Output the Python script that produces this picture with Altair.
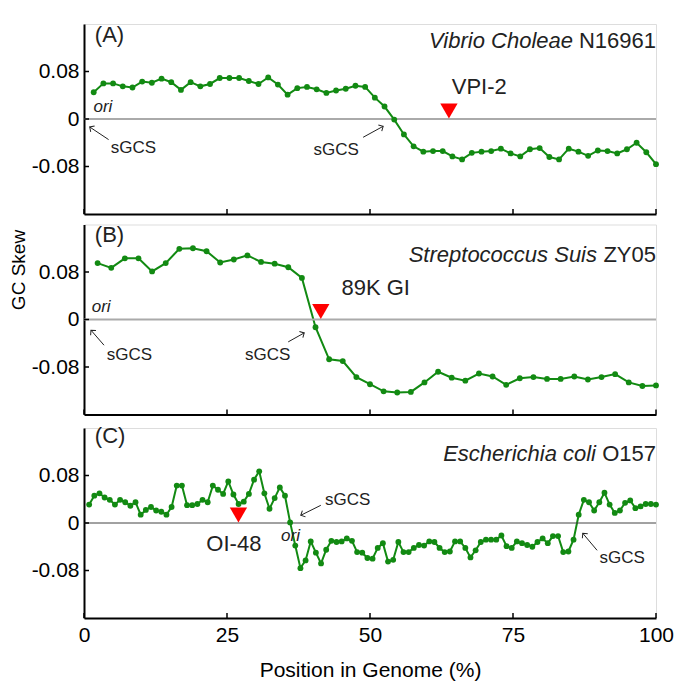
import math
import altair as alt
import pandas as pd

# ---------------- data ----------------
x_ticks = [0, 25, 50, 75, 100]
y_ticks = [-0.08, 0, 0.08]

skew_a = [0.045, 0.060, 0.060, 0.055, 0.053, 0.063, 0.061, 0.068, 0.062, 0.049,
          0.062, 0.055, 0.059, 0.069, 0.069, 0.069, 0.064, 0.059, 0.070, 0.058,
          0.041, 0.052, 0.054, 0.050, 0.044, 0.048, 0.051, 0.056, 0.054, 0.036,
          0.021, -0.001, -0.026, -0.046, -0.055, -0.054, -0.054, -0.063, -0.068, -0.057,
          -0.055, -0.054, -0.050, -0.058, -0.063, -0.051, -0.049, -0.064, -0.068, -0.050,
          -0.055, -0.062, -0.053, -0.054, -0.058, -0.051, -0.040, -0.056, -0.076]

skew_b = [0.095, 0.087, 0.103, 0.103, 0.081, 0.095, 0.119, 0.120, 0.115, 0.096,
          0.101, 0.108, 0.097, 0.094, 0.088, 0.070, -0.013, -0.067, -0.070, -0.097,
          -0.109, -0.121, -0.123, -0.122, -0.106, -0.088, -0.098, -0.103, -0.091, -0.096,
          -0.110, -0.099, -0.097, -0.100, -0.100, -0.096, -0.101, -0.097, -0.092, -0.106,
          -0.112, -0.111]

skew_c = [0.031, 0.046, 0.050, 0.043, 0.039, 0.031, 0.039, 0.035, 0.029, 0.035,
          0.014, 0.022, 0.027, 0.021, 0.019, 0.014, 0.027, 0.063, 0.063, 0.030,
          0.030, 0.032, 0.039, 0.035, 0.063, 0.056, 0.049, 0.070, 0.048, 0.032,
          0.036, 0.049, 0.073, 0.087, 0.050, 0.024, 0.042, 0.060, 0.046, 0.001,
          -0.038, -0.076, -0.063, -0.031, -0.050, -0.068, -0.045, -0.030, -0.032, -0.031,
          -0.026, -0.030, -0.049, -0.050, -0.059, -0.060, -0.042, -0.034, -0.065, -0.062,
          -0.032, -0.049, -0.049, -0.042, -0.037, -0.038, -0.031, -0.032, -0.042, -0.049,
          -0.048, -0.031, -0.031, -0.042, -0.058, -0.046, -0.032, -0.028, -0.028, -0.028,
          -0.021, -0.039, -0.042, -0.031, -0.034, -0.037, -0.040, -0.032, -0.026, -0.034,
          -0.022, -0.022, -0.049, -0.048, -0.028, 0.014, 0.039, 0.035, 0.021, 0.035,
          0.051, 0.031, 0.017, 0.021, 0.034, 0.038, 0.025, 0.028, 0.032, 0.032, 0.031]

panel_labels = ["(A)", "(B)", "(C)"]
species_italic = ["Vibrio Choleae", "Streptococcus Suis", "Escherichia coli"]
species_strain = ["N16961", "ZY05", "O157"]
islands = ["VPI-2", "89K GI", "OI-48"]
island_pos = [63.8, 41.4, 27.0]

# ---------------- style ----------------
W, H = 572, 190
GREEN = "#128a12"
FONT = "Liberation Sans"
XS = alt.Scale(domain=[0, 100], nice=False, zero=False)
YS = alt.Scale(domain=[-0.16, 0.16], nice=False, zero=False)
PX_X = W / 100.0
PX_Y = H / 0.32


def panel(k, vals, ann, bottom=False, ytitle=False, zero_color="#aaaaaa", zero_w=2):
    n = len(vals)
    df = pd.DataFrame({"x": [(i + 1) * 100.0 / n for i in range(n)], "y": vals})

    xax = dict(values=x_ticks, ticks=False, domainColor="black", domainWidth=2, grid=False,
               labels=bottom, labelFlush=False, labelFont=FONT, labelFontSize=21,
               labelColor="black", labelPadding=6, format="d", title=None)
    if bottom:
        xax.update(title="Position in Genome (%)", titleFont=FONT, titleFontSize=21,
                   titleFontWeight="normal", titleColor="black", titlePadding=14)
    yax = dict(values=y_ticks, ticks=False, domainColor="black", domainWidth=2, grid=False,
               labelFont=FONT, labelFontSize=21, labelColor="black", labelPadding=5,
               labelExpr="datum.value == 0 ? '0' : (datum.value < 0 ? '-' : '') + format(abs(datum.value), '.2f')",
               title=None)
    if ytitle:
        yax.update(title="GC Skew", titleFont=FONT, titleFontSize=19, titleFontWeight="normal",
                   titleColor="black", titlePadding=3, titleY=45, titleAlign="center",
                   titleAnchor="middle")
    XA = alt.Axis(**xax)
    YA = alt.Axis(**yax)

    def X(f):
        return alt.X(f, type="quantitative", scale=XS, axis=XA)

    def Y(f):
        return alt.Y(f, type="quantitative", scale=YS, axis=YA)

    def text_layer(rows, **kw):
        d = pd.DataFrame(rows, columns=["x", "y", "t"])
        return alt.Chart(d).mark_text(font=FONT, color="#222222", **kw).encode(
            x=X("x"), y=Y("y"), text="t:N")

    def arrow_layers(arrows):
        rows = []
        for tx, ty, hx, hy in arrows:
            ang = math.degrees(math.atan2(-(hy - ty) * PX_Y, (hx - tx) * PX_X)) % 360
            rows.append({"x": tx, "y": ty, "x2": hx, "y2": hy, "ang": ang})
        d = pd.DataFrame(rows)
        shaft = alt.Chart(d).mark_rule(color="#222222", strokeWidth=1).encode(
            x=X("x"), y=Y("y"), x2="x2:Q", y2="y2:Q")
        head = alt.Chart(d).mark_point(shape="M-1,-1L0,0L-1,1", filled=False, stroke="#222222",
                                       strokeWidth=1, size=50, opacity=1).encode(
            x=X("x2"), y=Y("y2"), angle=alt.Angle("ang:Q", scale=None))
        return [shaft, head]

    zero = alt.Chart(pd.DataFrame({"y": [0]})).mark_rule(color=zero_color, strokeWidth=zero_w).encode(
        y=Y("y"))
    line = alt.Chart(df).mark_line(color=GREEN, strokeWidth=2).encode(x=X("x"), y=Y("y"))
    pts = alt.Chart(df).mark_circle(color=GREEN, size=34, opacity=1).encode(x=X("x"), y=Y("y"))

    xt = alt.Chart(pd.DataFrame({"x": x_ticks})).mark_rule(color="black", strokeWidth=1.5).encode(
        x=X("x"), y=alt.value(H), y2=alt.value(H - 5))
    yt = alt.Chart(pd.DataFrame({"y": y_ticks})).mark_rule(color="black", strokeWidth=1.5).encode(
        y=Y("y"), x=alt.value(0), x2=alt.value(5))

    tri = alt.Chart(pd.DataFrame({"x": [island_pos[k]], "y": [0]})).mark_point(
        shape="triangle-down", filled=True, color="red", size=300, opacity=1, yOffset=-8).encode(
        x=X("x"), y=Y("y"))

    layers = [line, zero, pts, xt, yt, tri]
    layers.append(text_layer([(1.9, ann["label_y"], panel_labels[k])], align="left", baseline="middle", fontSize=22))
    layers.append(text_layer([(100, ann["sp_y"], species_strain[k])], align="right", baseline="middle", fontSize=22))
    layers.append(text_layer([(100, ann["sp_y"], species_italic[k])], align="right", baseline="middle",
                             fontSize=22, fontStyle="italic", dx=-ann["sp_dx"]))
    layers.append(text_layer([(ann["isl"][0], ann["isl"][1], islands[k])], align="center", baseline="middle", fontSize=22))
    layers.append(text_layer(ann["sgcs"], align="center", baseline="middle", fontSize=17))
    layers.append(text_layer(ann["ori"], align="center", baseline="middle", fontSize=17, fontStyle="italic"))
    layers += arrow_layers(ann["arrows"])
    return alt.layer(*layers).properties(width=W, height=H)


ann_a = dict(label_y=0.141, sp_y=0.131, sp_dx=83, isl=(69.1, 0.054),
             sgcs=[(8.65, -0.049, "sGCS"), (44.1, -0.0527, "sGCS")],
             ori=[(3.3, 0.0197, "ori")],
             arrows=[(4.3, -0.0347, 1.0, -0.0135), (48.8, -0.0308, 52.3, -0.0123)])
ann_b = dict(label_y=0.142, sp_y=0.108, sp_dx=59, isl=(51.0, 0.0527),
             sgcs=[(7.95, -0.060, "sGCS"), (32.1, -0.060, "sGCS")],
             ori=[(3.0, 0.0212, "ori")],
             arrows=[(3.5, -0.0433, 1.22, -0.018), (35.7, -0.0377, 38.5, -0.0226)])
ann_c = dict(label_y=0.146, sp_y=0.116, sp_dx=60, isl=(26.2, -0.0359),
             sgcs=[(46.1, 0.0382, "sGCS"), (94.1, -0.0595, "sGCS")],
             ori=[(36.1, -0.0224, "ori")],
             arrows=[(41.4, 0.0298, 37.9, 0.013), (89.7, -0.046, 87.2, -0.0174)])

pa = panel(0, skew_a, ann_a)
pb = panel(1, skew_b, ann_b, ytitle=True)
pc = panel(2, skew_c, ann_c, bottom=True, zero_color="#444444", zero_w=1)

chart = alt.vconcat(pa, pb, pc, spacing=7.5).properties(
    padding={"left": 0, "top": 15, "right": 0, "bottom": 0}
).configure_view(strokeWidth=0).configure(background="white")

chart.save("out.html", embed_options={"renderer": "svg", "actions": False})
